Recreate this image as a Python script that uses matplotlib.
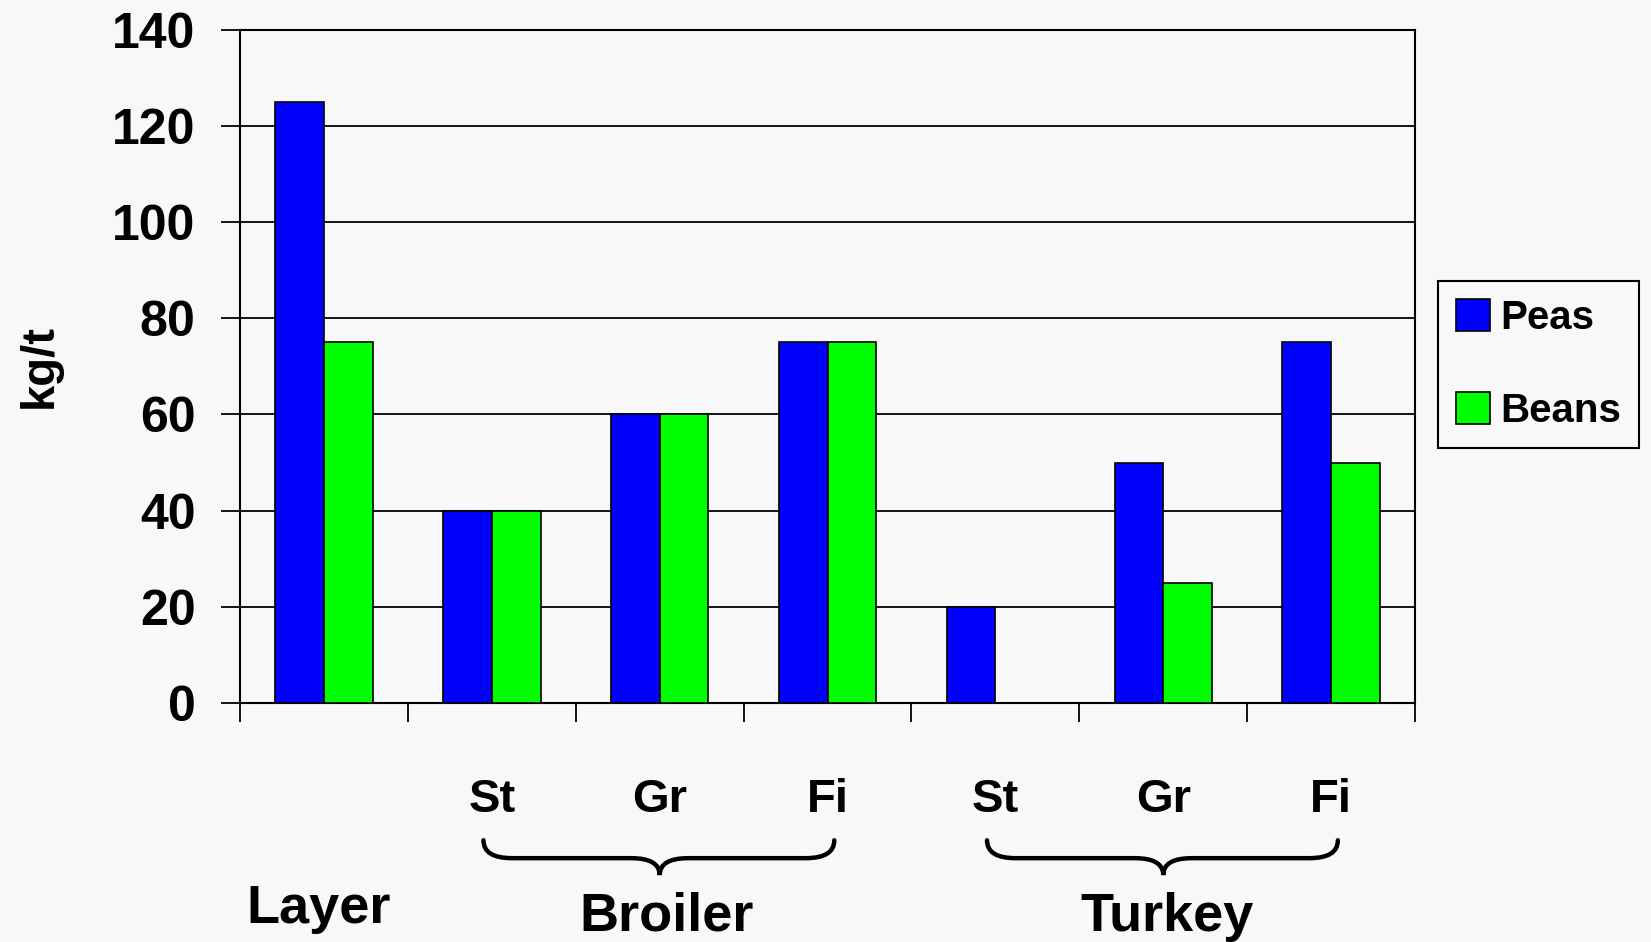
import matplotlib
matplotlib.use('Agg')
import matplotlib.pyplot as plt
import numpy as np
from matplotlib.path import Path
from matplotlib.patches import PathPatch
from matplotlib.transforms import blended_transform_factory

# data
sub_labels = ['', 'St', 'Gr', 'Fi', 'St', 'Gr', 'Fi']
peas = [125, 40, 60, 75, 20, 50, 75]
beans = [75, 40, 60, 75, 0, 25, 50]
groups = ['Layer', 'Broiler', 'Turkey']
group_mid = [0, 2, 5]          # category index at the group's centre
brace_groups = [(1, 3), (4, 6)]  # first/last category under each brace

plt.rcParams['font.family'] = ['Liberation Sans', 'DejaVu Sans']
plt.rcParams['font.weight'] = 'bold'
bg = '#f8f8f8'

fig = plt.figure(figsize=(16.51, 9.42), dpi=100, facecolor=bg)
ax = fig.add_axes([0.1454, 0.254, 0.7117, 0.714])
ax.set_facecolor(bg)

x = np.arange(len(peas))
w = 0.29
ax.bar(x, peas, width=-w, align='edge', color='#0000ff', edgecolor='black', linewidth=1.2, label='Peas', zorder=3)
ax.bar(x, beans, width=w, align='edge', color='#00ff00', edgecolor='black', linewidth=1.2, label='Beans', zorder=3)

ax.set_xlim(-0.5, len(peas) - 0.5)
ax.set_ylim(0, 140)
ax.set_yticks(np.arange(0, 141, 20))
ax.yaxis.grid(True, color='black', linewidth=1.3, zorder=0)
ax.tick_params(axis='y', direction='out', length=14, width=1.3, labelsize=36, pad=18)
for s in ax.spines.values():
    s.set_linewidth(1.5)

ax.set_xticks(x)
ax.set_xticklabels(sub_labels, fontsize=34)
ax.set_xticks(np.arange(-0.5, len(peas), 1), minor=True)
ax.tick_params(axis='x', which='major', length=0, pad=54)
ax.tick_params(axis='x', which='minor', direction='out', length=14, width=1.3)

ax.set_ylabel('kg/t', fontsize=34, fontweight='bold')
ax.yaxis.set_label_coords(-0.152, 0.5)

# group names and braces below the axis
tr = blended_transform_factory(ax.transData, fig.transFigure)
for name, m in zip(groups, group_mid):
    yy = 0.035 if name == 'Layer' else 0.027
    xx = {'Layer': m - 0.03, 'Broiler': m + 0.04, 'Turkey': m + 0.02}[name]
    ax.text(xx, yy, name, transform=tr, ha='center', va='center', fontsize=39, clip_on=False)

ytop, ymid, ytip = 0.108, 0.089, 0.071
r = 0.17
for a, b in brace_groups:
    x0, x1 = a - 0.05, b + 0.04
    c = (a + b) / 2
    verts = [(x0, ytop), (x0, ymid), (x0 + r, ymid),
             (c - r, ymid), (c, ymid), (c, ytip),
             (c, ymid), (c + r, ymid),
             (x1 - r, ymid), (x1, ymid), (x1, ytop)]
    codes = [Path.MOVETO, Path.CURVE3, Path.CURVE3,
             Path.LINETO, Path.CURVE3, Path.CURVE3,
             Path.CURVE3, Path.CURVE3,
             Path.LINETO, Path.CURVE3, Path.CURVE3]
    ax.add_patch(PathPatch(Path(verts, codes), transform=tr, fill=False, lw=3.2,
                           edgecolor='black', clip_on=False, capstyle='round'))

leg = ax.legend(loc='upper left', bbox_to_anchor=(1438 / 1651, 1 - 281 / 942),
                bbox_transform=fig.transFigure, borderaxespad=0, fontsize=29,
                handlelength=0.85, handleheight=0.85, handletextpad=0.25,
                labelspacing=1.35, borderpad=0.45, fancybox=False, framealpha=1,
                facecolor=bg, edgecolor='black')
leg.get_frame().set_linewidth(1.5)

fig.savefig('out.png', dpi=100, facecolor=bg)
